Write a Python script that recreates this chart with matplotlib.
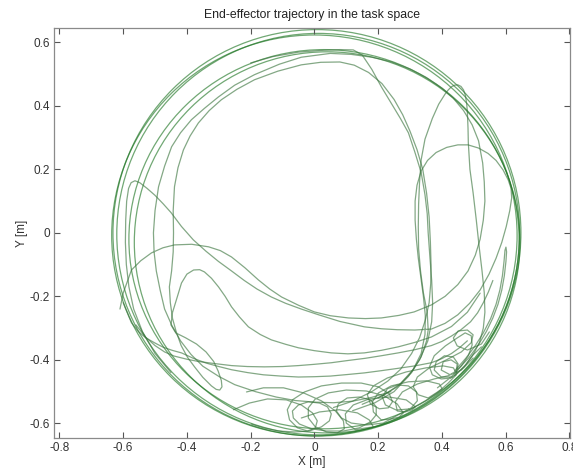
import matplotlib
matplotlib.use("Agg")
import matplotlib.pyplot as plt
from matplotlib.patches import Ellipse

# ---- data (metres) ----
# near-circular laps of the end-effector along the workspace boundary
loop_center_x = [0.008, 0.012, 0.000, 0.030, 0.040]
loop_center_y = [0.000, -0.004, -0.008, -0.020, -0.030]
loop_width = [1.280, 1.264, 1.272, 1.224, 1.210]
loop_height = [1.280, 1.264, 1.262, 1.194, 1.200]

s_curve_path = [(-0.45, -0.44), (-0.50, -0.38), (-0.54, -0.31), (-0.567, -0.24), (-0.582, -0.17), (-0.59, -0.10),
                (-0.593, -0.03), (-0.592, 0.04), (-0.589, 0.10), (-0.583, 0.14), (-0.575, 0.158), (-0.563, 0.164),
                (-0.548, 0.158), (-0.525, 0.14), (-0.50, 0.118), (-0.475, 0.092), (-0.45, 0.064), (-0.417, 0.02),
                (-0.38, -0.022), (-0.34, -0.058), (-0.301, -0.09), (-0.26, -0.12), (-0.22, -0.15), (-0.18, -0.177),
                (-0.135, -0.202), (-0.09, -0.222), (-0.041, -0.24), (0.013, -0.258), (0.08, -0.279),
                (0.157, -0.296), (0.21, -0.302), (0.26, -0.305), (0.315, -0.306), (0.367, -0.303), (0.41, -0.285),
                (0.45, -0.258), (0.487, -0.222), (0.52, -0.18), (0.548, -0.13), (0.57, -0.08), (0.588, -0.03),
                (0.602, 0.02), (0.613, 0.07), (0.619, 0.11), (0.617, 0.14), (0.608, 0.167), (0.592, 0.198),
                (0.57, 0.228), (0.545, 0.25), (0.515, 0.267), (0.482, 0.277), (0.45, 0.277), (0.415, 0.269),
                (0.382, 0.253), (0.355, 0.228), (0.335, 0.195), (0.322, 0.15), (0.316, 0.1), (0.316, 0.04),
                (0.32, -0.02), (0.326, -0.08), (0.334, -0.14), (0.342, -0.2), (0.348, -0.26), (0.347, -0.32),
                (0.335, -0.38), (0.31, -0.43), (0.27, -0.475), (0.22, -0.51), (0.15, -0.54)]
hump_path = [(-0.61, -0.24), (-0.6, -0.19), (-0.574, -0.117), (-0.545, -0.088), (-0.511, -0.063),
             (-0.475, -0.047), (-0.439, -0.038), (-0.385, -0.036), (-0.332, -0.044), (-0.295, -0.056),
             (-0.260, -0.076), (-0.218, -0.11), (-0.176, -0.148), (-0.14, -0.177), (-0.103, -0.202),
             (-0.05, -0.228), (0.0, -0.249), (0.05, -0.261), (0.107, -0.268), (0.16, -0.27), (0.21, -0.268),
             (0.265, -0.26), (0.313, -0.249), (0.367, -0.227), (0.41, -0.2), (0.45, -0.163), (0.482, -0.12),
             (0.505, -0.07), (0.52, -0.02), (0.53, 0.04), (0.535, 0.1), (0.533, 0.16), (0.528, 0.22),
             (0.515, 0.29), (0.495, 0.34), (0.468, 0.385), (0.435, 0.425), (0.4, 0.456), (0.35, 0.49),
             (0.3, 0.516), (0.24, 0.539), (0.18, 0.553), (0.115, 0.562), (0.05, 0.565), (-0.041, 0.553),
             (-0.11, 0.531), (-0.188, 0.498), (-0.25, 0.465), (-0.301, 0.428), (-0.345, 0.392), (-0.386, 0.356),
             (-0.42, 0.315), (-0.448, 0.271), (-0.47, 0.21), (-0.489, 0.145), (-0.5, 0.07), (-0.505, 0.0),
             (-0.503, -0.06), (-0.496, -0.12), (-0.484, -0.18), (-0.47, -0.24), (-0.448, -0.29), (-0.42, -0.34),
             (-0.387, -0.383), (-0.35, -0.42), (-0.3, -0.452), (-0.25, -0.478), (-0.185, -0.5), (-0.12, -0.517),
             (-0.06, -0.528), (0.0, -0.533), (0.06, -0.535), (0.12, -0.53), (0.18, -0.518), (0.24, -0.5)]
inner_arc_path = [(0.06, -0.55), (0.12, -0.53), (0.18, -0.5), (0.23, -0.467), (0.27, -0.43), (0.305, -0.38),
                  (0.33, -0.33), (0.348, -0.275), (0.36, -0.22), (0.365, -0.16), (0.366, -0.1), (0.364, -0.03),
                  (0.36, 0.05), (0.352, 0.125), (0.34, 0.2), (0.322, 0.262), (0.3, 0.32), (0.277, 0.372),
                  (0.25, 0.42), (0.212, 0.47), (0.17, 0.505), (0.125, 0.528), (0.08, 0.538), (0.02, 0.537),
                  (-0.041, 0.529), (-0.115, 0.509), (-0.188, 0.482), (-0.243, 0.452), (-0.292, 0.419),
                  (-0.33, 0.385), (-0.364, 0.346), (-0.39, 0.305), (-0.411, 0.261), (-0.428, 0.205),
                  (-0.439, 0.145), (-0.443, 0.07), (-0.442, 0.0), (-0.443, -0.06), (-0.448, -0.12),
                  (-0.455, -0.17), (-0.452, -0.22), (-0.445, -0.27), (-0.434, -0.31), (-0.418, -0.355),
                  (-0.398, -0.392), (-0.376, -0.422), (-0.35, -0.455), (-0.323, -0.482), (-0.308, -0.493),
                  (-0.297, -0.495), (-0.29, -0.485), (-0.292, -0.465), (-0.302, -0.435), (-0.316, -0.405),
                  (-0.34, -0.375), (-0.37, -0.35), (-0.405, -0.33), (-0.435, -0.315), (-0.45, -0.29),
                  (-0.445, -0.25), (-0.433, -0.211), (-0.417, -0.158), (-0.4, -0.13), (-0.379, -0.117),
                  (-0.36, -0.116), (-0.345, -0.123), (-0.323, -0.143), (-0.301, -0.17), (-0.28, -0.2),
                  (-0.26, -0.233), (-0.235, -0.265), (-0.207, -0.296), (-0.17, -0.32), (-0.135, -0.337),
                  (-0.09, -0.351), (-0.05, -0.362), (0.0, -0.371), (0.053, -0.378), (0.105, -0.381),
                  (0.157, -0.378), (0.21, -0.37), (0.263, -0.359), (0.315, -0.345), (0.367, -0.328),
                  (0.43, -0.295), (0.48, -0.25), (0.52, -0.19)]
narrow_loop = [(0.2, -0.52), (0.26, -0.485), (0.305, -0.44), (0.335, -0.39), (0.352, -0.34), (0.357, -0.306),
               (0.354, -0.25), (0.342, -0.189), (0.333, -0.12), (0.327, -0.05), (0.326, 0.019), (0.327, 0.09),
               (0.33, 0.16), (0.335, 0.23), (0.347, 0.295), (0.37, 0.36), (0.39, 0.405), (0.41, 0.437),
               (0.42, 0.45), (0.43, 0.46), (0.44, 0.465), (0.45, 0.466), (0.46, 0.461), (0.468, 0.45),
               (0.474, 0.432), (0.478, 0.405), (0.48, 0.38), (0.482, 0.33), (0.483, 0.283), (0.488, 0.2),
               (0.498, 0.126), (0.508, 0.04), (0.517, -0.044), (0.526, -0.12), (0.533, -0.189), (0.535, -0.25),
               (0.53, -0.3), (0.518, -0.345), (0.5, -0.38), (0.475, -0.415), (0.44, -0.45)]
top_diagonal = [(-0.2, 0.535), (-0.13, 0.555), (-0.05, 0.569), (0.03, 0.575), (0.08, 0.577), (0.122, 0.576),
                (0.15, 0.56), (0.18, 0.515), (0.21, 0.46), (0.24, 0.41), (0.27, 0.36), (0.295, 0.315),
                (0.315, 0.255), (0.335, 0.19), (0.347, 0.12), (0.354, 0.06), (0.357, 0.0), (0.362, -0.07),
                (0.368, -0.15), (0.371, -0.22), (0.368, -0.28), (0.356, -0.34), (0.33, -0.4), (0.295, -0.452),
                (0.25, -0.5), (0.19, -0.535), (0.12, -0.56)]
right_spike = [(0.45, -0.43), (0.485, -0.393), (0.515, -0.352), (0.54, -0.31), (0.56, -0.268), (0.576, -0.225),
               (0.588, -0.18), (0.596, -0.135), (0.601, -0.09), (0.603, -0.06), (0.601, -0.045), (0.598, -0.055),
               (0.595, -0.09), (0.59, -0.135), (0.582, -0.18), (0.57, -0.225), (0.553, -0.27), (0.53, -0.315),
               (0.505, -0.355), (0.475, -0.395), (0.44, -0.435)]
crescent_1 = [(-0.56, -0.29), (-0.53, -0.328), (-0.5, -0.355), (-0.47, -0.375), (-0.44, -0.388), (-0.4, -0.398),
              (-0.364, -0.405), (-0.31, -0.412), (-0.26, -0.418), (-0.21, -0.421), (-0.157, -0.422),
              (-0.1, -0.421), (-0.05, -0.418), (0.0, -0.414), (0.053, -0.409), (0.105, -0.402), (0.16, -0.395),
              (0.21, -0.387), (0.263, -0.378), (0.315, -0.368), (0.367, -0.355), (0.4, -0.342), (0.43, -0.325),
              (0.46, -0.305), (0.49, -0.28), (0.512, -0.252), (0.53, -0.22), (0.546, -0.186), (0.56, -0.15)]
crescent_2 = [(-0.6, -0.22), (-0.574, -0.283), (-0.553, -0.31), (-0.53, -0.33), (-0.5, -0.347),
              (-0.475, -0.36), (-0.446, -0.37), (-0.417, -0.378), (-0.38, -0.395), (-0.34, -0.41),
              (-0.3, -0.421), (-0.26, -0.431), (-0.21, -0.44), (-0.16, -0.447), (-0.105, -0.451),
              (-0.05, -0.454), (0.0, -0.453), (0.05, -0.451), (0.105, -0.446), (0.157, -0.441), (0.21, -0.434),
              (0.26, -0.427), (0.315, -0.419), (0.367, -0.409), (0.4, -0.396), (0.43, -0.38), (0.455, -0.362),
              (0.48, -0.34)]
bottom_chain_1 = [(-0.198, -0.602), (-0.160, -0.614), (-0.113, -0.624), (-0.063, -0.627), (-0.016, -0.624),
                  (0.022, -0.611), (0.047, -0.592), (0.053, -0.570), (0.041, -0.548), (0.016, -0.536),
                  (-0.019, -0.532), (-0.050, -0.542), (-0.069, -0.561), (-0.066, -0.583), (-0.047, -0.602),
                  (-0.009, -0.617), (0.038, -0.624), (0.091, -0.624), (0.141, -0.614), (0.176, -0.595),
                  (0.194, -0.573), (0.194, -0.548), (0.176, -0.526), (0.141, -0.517), (0.103, -0.520),
                  (0.075, -0.539), (0.069, -0.561), (0.085, -0.583), (0.116, -0.599), (0.163, -0.605),
                  (0.216, -0.599), (0.263, -0.573), (0.304, -0.551), (0.323, -0.529), (0.320, -0.501),
                  (0.295, -0.482), (0.260, -0.479), (0.229, -0.491), (0.213, -0.517), (0.223, -0.542),
                  (0.257, -0.558), (0.304, -0.554), (0.348, -0.529), (0.389, -0.501), (0.420, -0.473),
                  (0.445, -0.447), (0.451, -0.413), (0.436, -0.391), (0.408, -0.387), (0.382, -0.406),
                  (0.376, -0.432), (0.398, -0.454), (0.436, -0.454), (0.470, -0.422), (0.498, -0.384),
                  (0.524, -0.359)]
bottom_chain_2 = [(-0.213, -0.501), (-0.160, -0.488), (-0.097, -0.488), (-0.034, -0.504), (0.022, -0.529),
                  (0.066, -0.561), (0.091, -0.592), (0.094, -0.617), (0.072, -0.630), (0.038, -0.627),
                  (0.003, -0.611), (-0.019, -0.583), (-0.019, -0.551), (0.003, -0.523), (0.044, -0.504),
                  (0.100, -0.495), (0.163, -0.498), (0.219, -0.513), (0.260, -0.539), (0.279, -0.567),
                  (0.266, -0.580), (0.241, -0.586), (0.210, -0.589), (0.185, -0.564), (0.182, -0.532),
                  (0.201, -0.504), (0.241, -0.482), (0.295, -0.469), (0.351, -0.466), (0.392, -0.476),
                  (0.401, -0.491), (0.382, -0.504), (0.357, -0.520), (0.326, -0.510), (0.310, -0.485),
                  (0.323, -0.454), (0.361, -0.425), (0.414, -0.400), (0.461, -0.375), (0.492, -0.346),
                  (0.498, -0.321), (0.480, -0.306), (0.451, -0.309), (0.436, -0.331), (0.448, -0.356),
                  (0.480, -0.369), (0.524, -0.350), (0.549, -0.312)]
bottom_chain_3 = [(-0.254, -0.557), (-0.204, -0.536), (-0.147, -0.523), (-0.088, -0.526), (-0.041, -0.542),
                  (-0.006, -0.567), (0.009, -0.592), (0.003, -0.614), (-0.022, -0.624), (-0.053, -0.614),
                  (-0.078, -0.589), (-0.085, -0.557), (-0.069, -0.526), (-0.031, -0.501), (0.022, -0.482),
                  (0.085, -0.473), (0.147, -0.473), (0.201, -0.485), (0.235, -0.507), (0.245, -0.532),
                  (0.232, -0.551), (0.204, -0.554), (0.176, -0.539), (0.166, -0.510), (0.185, -0.482),
                  (0.229, -0.457), (0.288, -0.438), (0.351, -0.425), (0.404, -0.419), (0.436, -0.425),
                  (0.445, -0.441), (0.429, -0.457), (0.398, -0.460), (0.370, -0.447), (0.361, -0.422),
                  (0.376, -0.387), (0.411, -0.356), (0.448, -0.331), (0.473, -0.315), (0.492, -0.324),
                  (0.495, -0.353), (0.483, -0.387), (0.461, -0.419), (0.429, -0.454), (0.386, -0.488)]
bottom_chain_4 = [(-0.041, -0.583), (0.016, -0.564), (0.078, -0.557), (0.135, -0.567), (0.172, -0.589),
                  (0.185, -0.611), (0.163, -0.614), (0.129, -0.620), (0.100, -0.599), (0.097, -0.570),
                  (0.122, -0.542), (0.172, -0.523), (0.235, -0.517), (0.288, -0.526), (0.317, -0.548),
                  (0.307, -0.557), (0.285, -0.564), (0.260, -0.561), (0.254, -0.532), (0.276, -0.501),
                  (0.323, -0.476), (0.376, -0.460), (0.420, -0.450), (0.445, -0.435), (0.448, -0.413),
                  (0.429, -0.400), (0.404, -0.406), (0.398, -0.432), (0.426, -0.447), (0.461, -0.432),
                  (0.498, -0.394)]

paths = [s_curve_path, hump_path, inner_arc_path, narrow_loop, top_diagonal, right_spike, crescent_1,
         crescent_2, bottom_chain_1, bottom_chain_2, bottom_chain_3, bottom_chain_4]

x_ticks = [-0.8, -0.6, -0.4, -0.2, 0, 0.2, 0.4, 0.6, 0.8]
x_tick_labels = ["-0.8", "-0.6", "-0.4", "-0.2", "0", "0.2", "0.4", "0.6", "0.8"]
y_ticks = [-0.6, -0.4, -0.2, 0, 0.2, 0.4, 0.6]
y_tick_labels = ["-0.6", "-0.4", "-0.2", "0", "0.2", "0.4", "0.6"]

# ---- figure ----
plt.rcParams['font.family'] = ['Liberation Sans', 'DejaVu Sans']
fig = plt.figure(figsize=(5.73, 4.75), dpi=100)
ax = fig.add_axes([54 / 573, 37 / 475, 516 / 573, 410 / 475])

line_color = (0.22, 0.45, 0.23)
for cx, cy, w, h in zip(loop_center_x, loop_center_y, loop_width, loop_height):
    ax.add_patch(Ellipse((cx, cy), w, h, fill=False, edgecolor=(0.1, 0.45, 0.12), lw=0.9, alpha=0.62))

for p in paths:
    xs = [pt[0] for pt in p]
    ys = [pt[1] for pt in p]
    ax.plot(xs, ys, color=line_color, lw=0.9, alpha=0.62,
            solid_joinstyle='round', solid_capstyle='round')

ax.set_xlim(-0.817, 0.802)
ax.set_ylim(-0.646, 0.645)
ax.set_xticks(x_ticks)
ax.set_xticklabels(x_tick_labels)
ax.set_yticks(y_ticks)
ax.set_yticklabels(y_tick_labels)
ax.tick_params(direction='in', length=4, width=0.8, top=True, right=True, labelsize=8.5,
               colors='#555555', labelcolor='#333333', pad=3)
for s in ax.spines.values():
    s.set_color('#8a8a8a')
    s.set_linewidth(0.9)
ax.set_title("End-effector trajectory in the task space", fontsize=8.8, color='#222222', pad=7)
ax.set_xlabel("X [m]", fontsize=8.5, color='#333333', labelpad=1)
ax.set_ylabel("Y [m]", fontsize=8.5, color='#333333', labelpad=1)

fig.savefig("out.png", dpi=100)
